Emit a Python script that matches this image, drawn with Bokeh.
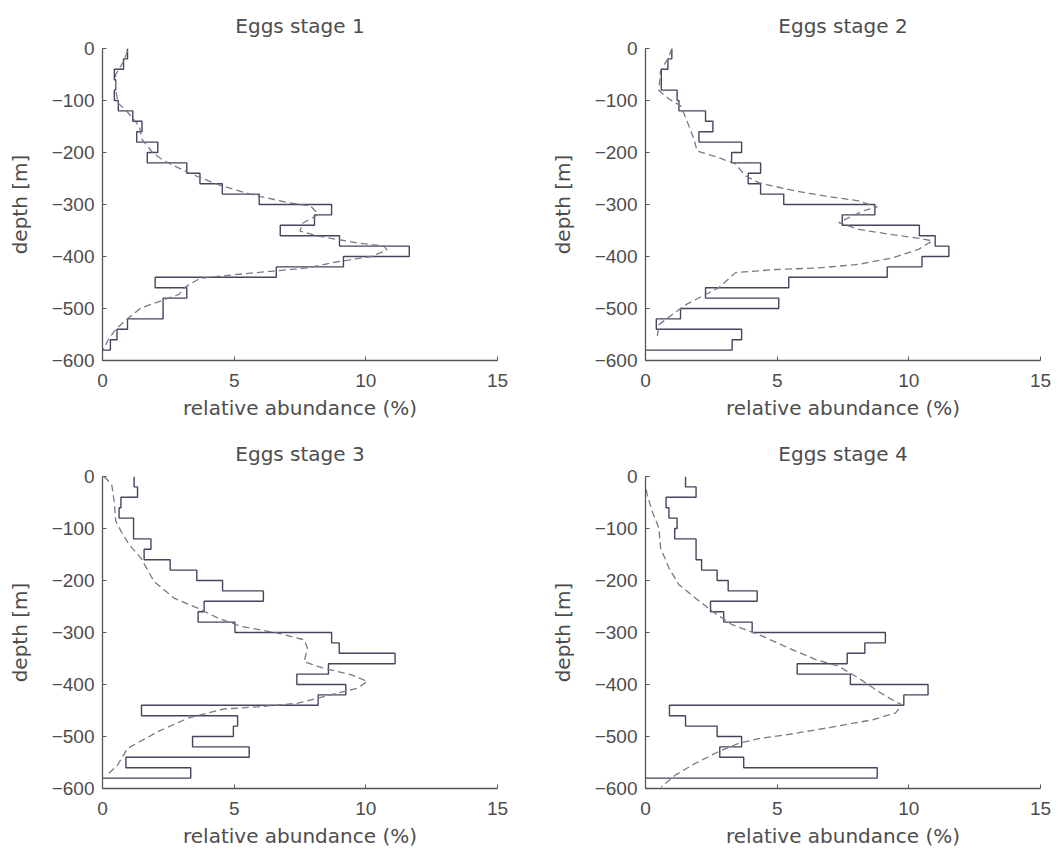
from bokeh.plotting import figure
from bokeh.layouts import column, row
from bokeh.models import Range1d, FixedTicker
from bokeh.embed import file_html
from bokeh.resources import INLINE
import numpy as np

# ---------------- data ----------------
titles = ["Eggs stage 1", "Eggs stage 2", "Eggs stage 3", "Eggs stage 4"]

# depth bin edges (m), 20 m bins from 0 to -580
depth_edges = [0, -20, -40, -60, -80, -100, -120, -140, -160, -180, -200, -220, -240,
               -260, -280, -300, -320, -340, -360, -380, -400, -420, -440, -460, -480,
               -500, -520, -540, -560, -580]

# observed relative abundance (%) per 20 m bin, top to bottom
obs_stage1 = [0.95, 0.8, 0.45, 0.5, 0.45, 0.6, 1.15, 1.5, 1.3, 2.1, 1.7, 3.2, 3.7, 4.55,
              5.95, 8.7, 8.05, 6.75, 9.0, 11.65, 9.15, 6.6, 2.0, 3.2, 2.3, 2.3, 0.95, 0.55, 0.3]
obs_stage2 = [1.0, 0.85, 0.6, 0.6, 1.2, 1.27, 2.28, 2.56, 2.03, 3.65, 3.27, 4.37, 3.9, 4.37,
              5.25, 8.71, 7.47, 10.4, 11.0, 11.52, 10.5, 9.18, 5.44, 2.28, 5.06, 1.33, 0.41, 3.65, 3.29]
obs_stage3 = [1.2, 1.33, 0.7, 0.63, 1.18, 1.18, 1.84, 1.58, 2.57, 3.58, 4.56, 6.11, 3.86, 3.63,
              5.03, 8.7, 8.99, 11.11, 8.58, 7.38, 9.24, 8.19, 1.48, 5.13, 4.97, 3.42, 5.57, 0.89, 3.35]
obs_stage4 = [1.52, 1.92, 0.78, 0.89, 1.2, 1.11, 1.92, 1.92, 2.13, 2.72, 3.14, 4.24, 2.47, 2.97,
              4.05, 9.11, 8.33, 7.66, 5.76, 7.78, 10.73, 9.81, 0.91, 1.52, 2.72, 3.65, 2.82, 3.73, 8.8]

# modelled profiles (dashed): depth (m) and relative abundance (%)
mod_depth1 = [-5, -25, -50, -80, -105, -125, -150, -175, -200, -215, -225, -242, -262, -280,
              -296, -303, -319, -336, -351, -361, -374, -380, -388, -400, -412, -422, -428,
              -435, -442, -460, -473, -499, -525, -544, -562, -582]
mod_value1 = [0.95, 0.8, 0.5, 0.5, 0.6, 1.0, 1.4, 1.5, 1.9, 2.3, 2.7, 3.4, 4.4, 5.6,
              7.0, 7.9, 8.2, 7.6, 7.5, 8.2, 9.7, 10.7, 10.8, 10.2, 8.7, 7.8, 6.5,
              5.0, 3.7, 3.1, 2.9, 1.46, 0.82, 0.44, 0.2, 0.0]

mod_depth2 = [0, -20, -42, -81, -97, -110, -132, -174, -197, -210, -222, -245, -258, -264,
              -274, -284, -293, -305, -312, -322, -335, -348, -358, -365, -370, -386, -403,
              -415, -422, -425, -431, -460, -473, -493, -512, -531, -557]
mod_value2 = [1.0, 0.85, 0.57, 0.51, 0.89, 1.33, 1.52, 1.84, 1.96, 2.78, 3.42, 3.8, 4.3, 4.81,
              5.7, 6.84, 8.1, 8.8, 8.29, 7.85, 7.34, 8.1, 9.37, 10.38, 10.89, 10.38, 9.37,
              8.1, 6.58, 4.94, 3.42, 2.78, 2.28, 1.52, 1.01, 0.51, 0.44]

mod_depth3 = [0, -15, -50, -85, -105, -130, -157, -202, -234, -253, -272, -288, -301, -314,
              -330, -356, -369, -381, -394, -407, -420, -436, -443, -447, -465, -491, -523,
              -555, -576]
mod_value3 = [0.06, 0.35, 0.45, 0.5, 0.7, 1.0, 1.46, 1.96, 2.72, 3.61, 4.37, 5.25, 6.65, 7.66,
              7.78, 7.66, 8.42, 9.43, 10.06, 9.68, 8.67, 7.41, 5.89, 4.62, 3.23, 2.09, 0.95,
              0.57, 0.13]

mod_depth4 = [-25, -34, -67, -99, -137, -176, -208, -234, -259, -285, -304, -330, -352, -365,
              -388, -414, -433, -439, -455, -468, -484, -497, -504, -513, -529, -555, -574, -597]
mod_value4 = [0.03, 0.06, 0.25, 0.51, 0.57, 0.89, 1.27, 1.9, 2.53, 3.29, 4.3, 5.44, 6.46, 7.34,
              8.1, 8.86, 9.49, 9.75, 9.49, 8.61, 6.84, 5.32, 4.3, 3.54, 2.78, 1.77, 1.14, 0.6]

x_ticks = [0, 5, 10, 15]
y_ticks = [0, -100, -200, -300, -400, -500, -600]
y_tick_labels = ["0", "\u2212100", "\u2212200", "\u2212300", "\u2212400", "\u2212500", "\u2212600"]

x_label = "relative abundance (%)"
y_label = "depth [m]"

# ---------------- styling ----------------
TICK_FONT = "Liberation Sans"
LABEL_FONT = "DejaVu Sans"
TXT = "#4d4d4d"
STEP_COLOR = "#45455e"
DASH_COLOR = "#7a7a85"


def step_path(values, edges):
    bin_h = edges[1] - edges[0]
    tops = np.array(edges[:len(values)], dtype=float)
    bots = tops + bin_h
    v = np.array(values, dtype=float)
    xs = np.column_stack([v, v]).ravel()
    ys = np.column_stack([tops, bots]).ravel()
    xs = np.append(xs, 0.0)
    ys = np.append(ys, bots[-1])
    return xs, ys


def make_panel(title, obs, md, mv, bl, br, bt, bb):
    p = figure(frame_width=395, frame_height=312,
               min_border_left=bl, min_border_right=br,
               min_border_top=bt, min_border_bottom=bb,
               x_range=Range1d(0, 15), y_range=Range1d(-600, 0),
               output_backend="svg", toolbar_location=None, title=title)
    p.title.align = "center"
    p.title.text_font = LABEL_FONT
    p.title.text_font_size = "20px"
    p.title.text_font_style = "normal"
    p.title.text_color = TXT
    p.title.standoff = 22
    p.outline_line_color = None
    p.xgrid.visible = False
    p.ygrid.visible = False
    p.background_fill_color = "white"

    for ax in (p.xaxis[0], p.yaxis[0]):
        ax.axis_line_color = "#555555"
        ax.axis_line_width = 1.3
        ax.major_tick_line_color = "#555555"
        ax.major_tick_in = 4
        ax.major_tick_out = 0
        ax.minor_tick_line_color = None
        ax.major_label_text_font = TICK_FONT
        ax.major_label_text_font_size = "19px"
        ax.major_label_text_color = TXT
        ax.axis_label_text_font = LABEL_FONT
        ax.axis_label_text_font_size = "20px"
        ax.axis_label_text_font_style = "normal"
        ax.axis_label_text_color = TXT

    p.xaxis.ticker = FixedTicker(ticks=x_ticks)
    p.yaxis.ticker = FixedTicker(ticks=y_ticks)
    p.yaxis.major_label_overrides = {t: l for t, l in zip(y_ticks, y_tick_labels)}
    p.xaxis.axis_label = x_label
    p.yaxis.axis_label = y_label
    p.xaxis.major_label_standoff = 13
    p.xaxis.axis_label_standoff = 6
    p.yaxis.major_label_standoff = 8
    p.yaxis.axis_label_standoff = 17

    xs, ys = step_path(obs, depth_edges)
    p.line(xs, ys, line_color=STEP_COLOR, line_width=1.4)
    p.line(mv, md, line_color=DASH_COLOR, line_width=1.3, line_dash="7 4")
    return p


p1 = make_panel(titles[0], obs_stage1, mod_depth1, mod_value1, 102, 30, 48, 64)
p2 = make_panel(titles[1], obs_stage2, mod_depth2, mod_value2, 118, 12, 48, 64)
p3 = make_panel(titles[2], obs_stage3, mod_depth3, mod_value3, 102, 30, 52, 64)
p4 = make_panel(titles[3], obs_stage4, mod_depth4, mod_value4, 118, 12, 52, 64)

layout = column(row(p1, p2), row(p3, p4))

open("out.html", "w").write(file_html(layout, INLINE))
